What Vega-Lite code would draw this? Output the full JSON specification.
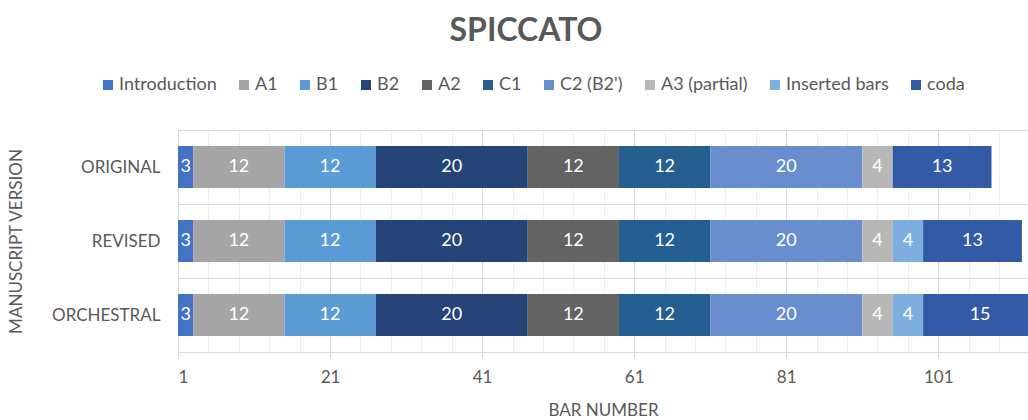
{
  "$schema": "https://vega.github.io/schema/vega-lite/v6.json",
  "width": 850,
  "height": 222,
  "autosize": {"type": "none"},
  "padding": {"left": 178, "top": 130, "right": 0, "bottom": 68},
  "background": "white",
  "config": {"font": "Lato", "view": {"stroke": null}},
  "title": {"text": "SPICCATO", "fontSize": 32, "fontWeight": "bold", "color": "#595959", "anchor": "middle", "dx": -77, "offset": 28, "font": "Lato"},
  "data": {
    "values": [
      {"version": "ORIGINAL", "section": "Introduction", "i": 1, "value": 3},
      {"version": "ORIGINAL", "section": "A1", "i": 2, "value": 12},
      {"version": "ORIGINAL", "section": "B1", "i": 3, "value": 12},
      {"version": "ORIGINAL", "section": "B2", "i": 4, "value": 20},
      {"version": "ORIGINAL", "section": "A2", "i": 5, "value": 12},
      {"version": "ORIGINAL", "section": "C1", "i": 6, "value": 12},
      {"version": "ORIGINAL", "section": "C2 (B2')", "i": 7, "value": 20},
      {"version": "ORIGINAL", "section": "A3 (partial)", "i": 8, "value": 4},
      {"version": "ORIGINAL", "section": "coda", "i": 10, "value": 13},
      {"version": "REVISED", "section": "Introduction", "i": 1, "value": 3},
      {"version": "REVISED", "section": "A1", "i": 2, "value": 12},
      {"version": "REVISED", "section": "B1", "i": 3, "value": 12},
      {"version": "REVISED", "section": "B2", "i": 4, "value": 20},
      {"version": "REVISED", "section": "A2", "i": 5, "value": 12},
      {"version": "REVISED", "section": "C1", "i": 6, "value": 12},
      {"version": "REVISED", "section": "C2 (B2')", "i": 7, "value": 20},
      {"version": "REVISED", "section": "A3 (partial)", "i": 8, "value": 4},
      {"version": "REVISED", "section": "Inserted bars", "i": 9, "value": 4},
      {"version": "REVISED", "section": "coda", "i": 10, "value": 13},
      {"version": "ORCHESTRAL", "section": "Introduction", "i": 1, "value": 3},
      {"version": "ORCHESTRAL", "section": "A1", "i": 2, "value": 12},
      {"version": "ORCHESTRAL", "section": "B1", "i": 3, "value": 12},
      {"version": "ORCHESTRAL", "section": "B2", "i": 4, "value": 20},
      {"version": "ORCHESTRAL", "section": "A2", "i": 5, "value": 12},
      {"version": "ORCHESTRAL", "section": "C1", "i": 6, "value": 12},
      {"version": "ORCHESTRAL", "section": "C2 (B2')", "i": 7, "value": 20},
      {"version": "ORCHESTRAL", "section": "A3 (partial)", "i": 8, "value": 4},
      {"version": "ORCHESTRAL", "section": "Inserted bars", "i": 9, "value": 4},
      {"version": "ORCHESTRAL", "section": "coda", "i": 10, "value": 15}
    ]
  },
  "transform": [
    {"stack": "value", "groupby": ["version"], "sort": [{"field": "i", "order": "ascending"}], "as": ["x0", "x1"]},
    {"calculate": "(max(datum.x0, 1) + datum.x1) / 2", "as": "mid"}
  ],
  "encoding": {
    "y": {
      "field": "version", "type": "nominal",
      "sort": ["ORIGINAL", "REVISED", "ORCHESTRAL"],
      "scale": {"paddingInner": 0, "paddingOuter": 0},
      "axis": {
        "title": "MANUSCRIPT VERSION", "titleFontSize": 17, "titleFontWeight": "normal", "titleColor": "#595959", "titlePadding": 26,
        "labelFontSize": 17, "labelColor": "#595959", "labelPadding": 18,
        "ticks": false, "domain": false, "grid": true, "gridColor": "#d9d9d9", "tickBand": "extent"
      }
    }
  },
  "layer": [
    {
      "mark": {"type": "bar", "clip": true, "height": {"band": 0.57}},
      "encoding": {
        "x": {
          "field": "x0", "type": "quantitative",
          "scale": {"domain": [1, 112.8], "nice": false, "zero": false},
          "axis": {
            "orient": "bottom", "values": [5, 9, 13, 17, 25, 29, 33, 37, 45, 49, 53, 57, 65, 69, 73, 77, 85, 89, 93, 97, 105, 109],
            "labels": false, "ticks": false, "domain": false, "title": null, "grid": true, "gridColor": "#eeeeee"
          }
        },
        "x2": {"field": "x1"},
        "color": {
          "field": "section", "type": "nominal",
          "scale": {
            "domain": ["Introduction", "A1", "B1", "B2", "A2", "C1", "C2 (B2')", "A3 (partial)", "Inserted bars", "coda"],
            "range": ["#4472C4", "#A5A5A5", "#5B9BD5", "#264478", "#636363", "#255E91", "#698ED0", "#B7B7B7", "#7CAFDD", "#335AA6"]
          },
          "legend": {
            "title": null, "orient": "none", "legendX": -79, "legendY": -54, "direction": "horizontal", "columns": 10,
            "labelFontSize": 18, "labelColor": "#595959", "symbolType": "square", "symbolSize": 100, "symbolStrokeWidth": 0,
            "labelOffset": 2, "columnPadding": 18, "labelLimit": 300
          }
        }
      }
    },
    {
      "mark": {"type": "text", "color": "white", "fontSize": 18, "baseline": "middle", "align": "center"},
      "encoding": {
        "x": {
          "field": "mid", "type": "quantitative",
          "axis": {
            "orient": "bottom", "values": [1, 21, 41, 61, 81, 101], "title": "BAR NUMBER",
            "titleFontSize": 17, "titleFontWeight": "normal", "titleColor": "#595959", "titlePadding": 17,
            "labelFontSize": 17, "labelColor": "#595959", "labelPadding": 11,
            "ticks": true, "tickSize": 6, "tickColor": "#d9d9d9", "domain": false,
            "grid": true, "gridColor": "#d9d9d9"
          }
        },
        "text": {"field": "value", "type": "quantitative"}
      }
    }
  ],
  "resolve": {"axis": {"x": "independent"}}
}
